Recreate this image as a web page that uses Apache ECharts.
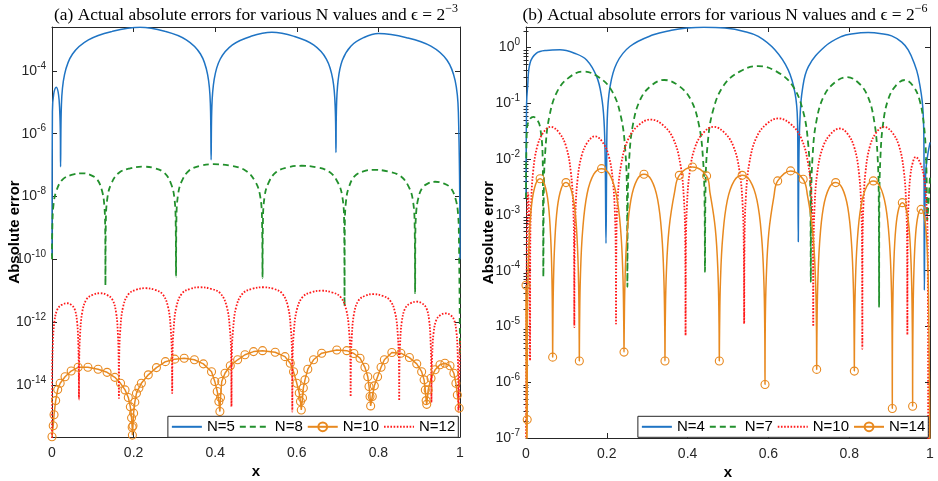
<!DOCTYPE html>
<html>
<head>
<meta charset="utf-8">
<title>Actual absolute errors</title>
<script src="https://cdn.jsdelivr.net/npm/echarts@6/dist/echarts.min.js"></script>
<style>
  html, body { margin: 0; padding: 0; background: #fff; }
  #chart { width: 938px; height: 481px; }
</style>
</head>
<body>
<div id="chart"></div>
<script>
// Every curve point is [x, log10(absolute error)].

// ---- Panel (a): epsilon = 2^-3 ----
const errA_N5 = [
  [0, -9.9], [0.001, -5.3], [0.004, -4.75], [0.0105, -4.52], [0.016, -4.75], [0.019, -5.3], [0.0205, -6.0], [0.021, -7.05],
  [0.0230, -5.11], [0.0308, -4.11], [0.0503, -3.46], [0.0893, -3.01], [0.1478, -2.74], [0.216, -2.61], [0.2769, -2.74], [0.3291, -3.01], [0.3639, -3.46], [0.3813, -4.11], [0.3883, -5.11], [0.390, -6.83],
  [0.3915, -5.27], [0.3975, -4.27], [0.4124, -3.62], [0.4422, -3.17], [0.4869, -2.90], [0.539, -2.77], [0.5940, -2.90], [0.6411, -3.17], [0.6725, -3.62], [0.6882, -4.27], [0.6944, -5.27], [0.696, -6.60],
  [0.6970, -5.31], [0.7012, -4.31], [0.7116, -3.66], [0.7324, -3.21], [0.7636, -2.94], [0.800, -2.81], [0.8693, -2.94], [0.9287, -3.21], [0.9683, -3.66], [0.9881, -4.31], [0.9960, -5.31], [1.0, -10.0]
];

const errA_N8 = [
  [0, -10.0], [0.0007, -9.06], [0.0037, -8.26], [0.0110, -7.81], [0.0257, -7.46], [0.0478, -7.31], [0.0735, -7.26], [0.0936, -7.31], [0.1109, -7.46], [0.1224, -7.81], [0.1281, -8.26], [0.1304, -9.06], [0.131, -10.82],
  [0.1319, -8.85], [0.1357, -8.05], [0.1450, -7.60], [0.1636, -7.25], [0.1915, -7.10], [0.224, -7.05], [0.252, -7.10], [0.276, -7.25], [0.292, -7.60], [0.300, -8.05], [0.3032, -8.85], [0.304, -10.55],
  [0.3049, -8.77], [0.3086, -7.97], [0.3178, -7.52], [0.3362, -7.17], [0.3638, -7.02], [0.396, -6.97], [0.438, -7.02], [0.474, -7.17], [0.498, -7.52], [0.510, -7.97], [0.5148, -8.77], [0.516, -10.60],
  [0.5170, -8.82], [0.5208, -8.02], [0.5304, -7.57], [0.5496, -7.22], [0.5784, -7.07], [0.612, -7.02], [0.6488, -7.07], [0.6803, -7.22], [0.7013, -7.57], [0.7118, -8.02], [0.7160, -8.82], [0.717, -11.5],
  [0.7177, -8.95], [0.7206, -8.15], [0.7277, -7.70], [0.7419, -7.35], [0.7632, -7.20], [0.788, -7.15], [0.8237, -7.20], [0.8543, -7.35], [0.8747, -7.70], [0.8849, -8.15], [0.8889, -8.95], [0.890, -11.08],
  [0.8905, -9.33], [0.8925, -8.53], [0.8974, -8.08], [0.9072, -7.73], [0.9219, -7.58], [0.939, -7.53], [0.9597, -7.58], [0.9774, -7.73], [0.9892, -8.08], [0.9951, -8.53], [0.9974, -9.33], [1.0, -13.0]
];

const errA_N10 = [
  [0, -15.65], [0.003, -15.3], [0.005, -14.95], [0.009, -14.5], [0.014, -14.15], [0.02, -13.95], [0.032, -13.74], [0.047, -13.56], [0.064, -13.44], [0.088, -13.44], [0.113, -13.50], [0.135, -13.6], [0.154, -13.76], [0.168, -13.95], [0.179, -14.16], [0.187, -14.4], [0.192, -14.7], [0.195, -15.05], [0.1965, -15.35], [0.197, -15.6],
  [0.1985, -15.3], [0.2, -14.9], [0.203, -14.55], [0.207, -14.27], [0.213, -14.1], [0.219, -13.95], [0.236, -13.68], [0.256, -13.45], [0.278, -13.26], [0.301, -13.18], [0.324, -13.15], [0.349, -13.20], [0.371, -13.33], [0.391, -13.58], [0.399, -13.89], [0.405, -14.21], [0.409, -14.53], [0.4115, -14.85],
  [0.413, -14.4], [0.416, -13.89], [0.424, -13.63], [0.437, -13.39], [0.455, -13.20], [0.473, -13.04], [0.494, -12.94], [0.516, -12.91], [0.547, -12.96], [0.571, -13.10], [0.584, -13.31], [0.592, -13.58], [0.600, -13.95], [0.606, -14.26], [0.609, -14.53], [0.611, -14.80],
  [0.614, -14.42], [0.616, -14.10], [0.620, -13.84], [0.627, -13.50], [0.641, -13.20], [0.661, -12.99], [0.698, -12.89], [0.7225, -12.91], [0.740, -13.0], [0.755, -13.15], [0.767, -13.44], [0.774, -13.74], [0.777, -14.05], [0.7795, -14.37], [0.781, -14.67],
  [0.785, -14.37], [0.790, -14.03], [0.798, -13.74], [0.8065, -13.44], [0.8146, -13.20], [0.833, -12.97], [0.855, -12.99], [0.876, -13.13], [0.894, -13.33], [0.906, -13.58], [0.912, -13.84], [0.915, -14.16], [0.917, -14.50], [0.9185, -14.62],
  [0.922, -14.16], [0.929, -13.79], [0.939, -13.52], [0.951, -13.36], [0.963, -13.31], [0.9755, -13.39], [0.985, -13.63], [0.990, -13.95], [0.9935, -14.32], [0.998, -14.74]
];

const errA_N12 = [
  [0, -16.5], [0.0004, -13.6], [0.0019, -12.75], [0.0056, -12.02], [0.0130, -11.6], [0.0241, -11.45], [0.037, -11.40], [0.0472, -11.45], [0.0559, -11.6], [0.0617, -12.02], [0.0646, -12.75], [0.0657, -13.6], [0.0661, -14.46],
  [0.0666, -13.28], [0.0687, -12.43], [0.0739, -11.70], [0.0843, -11.28], [0.1000, -11.13], [0.118, -11.08], [0.1341, -11.13], [0.1479, -11.28], [0.1571, -11.70], [0.1617, -12.43], [0.1635, -13.28], [0.164, -14.42],
  [0.1647, -13.12], [0.1673, -12.27], [0.1738, -11.54], [0.1868, -11.12], [0.2063, -10.97], [0.229, -10.92], [0.252, -10.97], [0.2716, -11.12], [0.2848, -11.54], [0.2913, -12.27], [0.2939, -13.12], [0.2946, -14.26],
  [0.2953, -13.09], [0.2980, -12.24], [0.3049, -11.51], [0.3185, -11.09], [0.3391, -10.94], [0.363, -10.89], [0.3899, -10.94], [0.4130, -11.09], [0.4284, -11.51], [0.4361, -12.24], [0.4391, -13.09], [0.4399, -14.69],
  [0.4407, -13.09], [0.4438, -12.24], [0.4516, -11.51], [0.4672, -11.09], [0.4907, -10.94], [0.518, -10.89], [0.5429, -10.94], [0.5642, -11.09], [0.5784, -11.51], [0.5855, -12.24], [0.5883, -13.09], [0.589, -14.85],
  [0.5897, -13.2], [0.5926, -12.35], [0.5998, -11.62], [0.6142, -11.2], [0.6358, -11.05], [0.661, -11.00], [0.6859, -11.05], [0.7072, -11.2], [0.7214, -11.62], [0.7285, -12.35], [0.7313, -13.2], [0.732, -14.37],
  [0.7326, -13.31], [0.7348, -12.46], [0.7403, -11.73], [0.7513, -11.31], [0.7678, -11.16], [0.787, -11.11], [0.8094, -11.16], [0.8286, -11.31], [0.8414, -11.73], [0.8478, -12.46], [0.8504, -13.31], [0.851, -14.5],
  [0.8514, -13.55], [0.8532, -12.70], [0.8575, -11.97], [0.8661, -11.55], [0.8790, -11.40], [0.894, -11.35], [0.9066, -11.40], [0.9174, -11.55], [0.9246, -11.97], [0.9282, -12.70], [0.9296, -13.55], [0.930, -14.56],
  [0.9304, -13.92], [0.9318, -13.07], [0.9353, -12.34], [0.9423, -11.92], [0.9528, -11.77], [0.965, -11.72], [0.9759, -11.77], [0.9852, -11.92], [0.9914, -12.34], [0.9945, -13.07], [0.9957, -13.92], [0.996, -14.85], [1.0, -12.6]
];

// ---- Panel (b): epsilon = 2^-6 ----
const errB_N4 = [
  [0, -2.7], [0.0015, -1.0], [0.004, -0.7], [0.0099, -0.28], [0.026, -0.10], [0.05, -0.05], [0.084, -0.04], [0.12, -0.10], [0.150, -0.22], [0.175, -0.52], [0.187, -0.88], [0.193, -1.30], [0.196, -2.0], [0.198, -3.51],
  [0.1995, -2.2], [0.201, -1.30], [0.208, -0.70], [0.2245, -0.28], [0.257, 0.02], [0.315, 0.23], [0.36, 0.31], [0.398, 0.35], [0.44, 0.366], [0.4926, 0.35], [0.54, 0.29], [0.575, 0.20], [0.616, -0.04], [0.649, -0.40], [0.666, -0.82], [0.672, -1.30], [0.673, -2.0], [0.674, -3.48],
  [0.6755, -2.0], [0.678, -1.30], [0.684, -0.76], [0.699, -0.34], [0.740, 0.02], [0.781, 0.20], [0.81, 0.25], [0.847, 0.27], [0.88, 0.25], [0.905, 0.21], [0.93, 0.10], [0.946, -0.04], [0.961, -0.28], [0.971, -0.52], [0.982, -1.06], [0.985, -1.8], [0.986, -4.35],
  [0.989, -2.3], [1.0, -1.7]
];

const errB_N7 = [
  [0, -2.7], [0.002, -1.48], [0.008, -1.3], [0.018, -1.24], [0.028, -1.3], [0.0347, -1.42], [0.041, -1.90], [0.042, -2.6], [0.043, -4.11],
  [0.0440, -2.63], [0.0480, -1.83], [0.0579, -1.23], [0.0777, -0.78], [0.1074, -0.53], [0.142, -0.43], [0.1802, -0.53], [0.2129, -0.78], [0.2347, -1.23], [0.2456, -1.83], [0.2499, -2.63], [0.251, -4.29],
  [0.2519, -2.78], [0.2556, -1.98], [0.2647, -1.38], [0.2829, -0.93], [0.3102, -0.68], [0.342, -0.58], [0.3774, -0.68], [0.4077, -0.93], [0.4279, -1.38], [0.4380, -1.98], [0.4420, -2.78], [0.443, -4.02],
  [0.4443, -2.53], [0.4496, -1.73], [0.4628, -1.13], [0.4892, -0.68], [0.5288, -0.43], [0.575, -0.33], [0.6205, -0.43], [0.6595, -0.68], [0.6855, -1.13], [0.6985, -1.73], [0.7037, -2.53], [0.705, -4.20],
  [0.7059, -2.73], [0.7095, -1.93], [0.7185, -1.33], [0.7365, -0.88], [0.7635, -0.63], [0.795, -0.53], [0.8227, -0.63], [0.8464, -0.88], [0.8622, -1.33], [0.8701, -1.93], [0.8732, -2.73], [0.874, -4.65],
  [0.8746, -2.78], [0.8772, -1.98], [0.8836, -1.38], [0.8964, -0.93], [0.9156, -0.68], [0.938, -0.58], [0.9573, -0.68], [0.9738, -0.93], [0.9848, -1.38], [0.9903, -1.98], [0.9925, -2.78], [0.993, -3.1], [1.0, -2.3]
];

const errB_N10 = [
  [0, -7.5], [0.002, -3.5], [0.005, -2.6], [0.008, -3.2], [0.010, -5.61],
  [0.0105, -3.62], [0.0126, -2.82], [0.0177, -2.22], [0.0279, -1.77], [0.0432, -1.52], [0.061, -1.42], [0.0815, -1.52], [0.0991, -1.77], [0.1108, -2.22], [0.1167, -2.82], [0.1190, -3.62], [0.1196, -5.01],
  [0.1201, -3.79], [0.1222, -2.99], [0.1273, -2.39], [0.1376, -1.94], [0.1530, -1.69], [0.171, -1.59], [0.1891, -1.69], [0.2047, -1.94], [0.2150, -2.39], [0.2202, -2.99], [0.2223, -3.79], [0.2228, -4.95],
  [0.2237, -3.49], [0.2271, -2.69], [0.2357, -2.09], [0.2530, -1.64], [0.2788, -1.39], [0.309, -1.29], [0.3391, -1.39], [0.3649, -1.64], [0.3821, -2.09], [0.3907, -2.69], [0.3941, -3.49], [0.395, -5.16],
  [0.3957, -3.62], [0.3985, -2.82], [0.4054, -2.22], [0.4192, -1.77], [0.4399, -1.52], [0.464, -1.42], [0.4906, -1.52], [0.5134, -1.77], [0.5286, -2.22], [0.5362, -2.82], [0.5392, -3.62], [0.540, -4.95],
  [0.5409, -3.47], [0.5443, -2.67], [0.5528, -2.07], [0.5698, -1.62], [0.5953, -1.37], [0.625, -1.27], [0.6551, -1.37], [0.6809, -1.62], [0.6981, -2.07], [0.7067, -2.67], [0.7101, -3.47], [0.711, -5.0],
  [0.7117, -3.65], [0.7143, -2.85], [0.7209, -2.25], [0.7341, -1.80], [0.7539, -1.55], [0.777, -1.45], [0.7964, -1.55], [0.8131, -1.80], [0.8242, -2.25], [0.8297, -2.85], [0.8319, -3.65], [0.8325, -5.40],
  [0.8330, -3.62], [0.8352, -2.82], [0.8405, -2.22], [0.8512, -1.77], [0.8673, -1.52], [0.886, -1.42], [0.9063, -1.52], [0.9237, -1.77], [0.9353, -2.22], [0.9411, -2.82], [0.9434, -3.62], [0.944, -5.15],
  [0.9442, -4.16], [0.9450, -3.36], [0.9471, -2.76], [0.9512, -2.31], [0.9574, -2.06], [0.9646, -1.96], [0.9752, -2.06], [0.9848, -2.31], [0.9909, -2.76], [0.9940, -3.36], [0.9947, -4.16], [0.997, -7.5], [1.0, -7.5]
];

const errB_N14 = [
  [0, -4.26], [0.0015, -7.3], [0.003, -6.67],
  [0.0033, -5.15], [0.0046, -4.25], [0.0078, -3.45], [0.0142, -2.80], [0.0238, -2.45], [0.035, -2.35], [0.0459, -2.45], [0.0552, -2.80], [0.0614, -3.45], [0.0645, -4.25], [0.0657, -5.15], [0.066, -5.55],
  [0.0663, -5.22], [0.0677, -4.32], [0.0710, -3.52], [0.0776, -2.87], [0.0875, -2.52], [0.099, -2.42], [0.1106, -2.52], [0.1205, -2.87], [0.1271, -3.52], [0.1304, -4.32], [0.1317, -5.22], [0.132, -5.62],
  [0.1326, -4.97], [0.1348, -4.07], [0.1403, -3.27], [0.1513, -2.62], [0.1678, -2.27], [0.187, -2.17], [0.2065, -2.27], [0.2231, -2.62], [0.2343, -3.27], [0.2398, -4.07], [0.2420, -4.97], [0.2426, -5.46],
  [0.2431, -5.07], [0.2451, -4.17], [0.2500, -3.37], [0.2599, -2.72], [0.2747, -2.37], [0.292, -2.27], [0.3102, -2.37], [0.3258, -2.72], [0.3362, -3.37], [0.3414, -4.17], [0.3435, -5.07], [0.344, -5.62],
  [0.3447, -4.94], [0.3474, -4.04], [0.3542, -3.24], [0.3678, -2.59], [0.3795, -2.29], [0.412, -2.14], [0.447, -2.30], [0.4552, -2.59], [0.4685, -3.24], [0.4752, -4.04], [0.4778, -4.94], [0.4785, -5.62],
  [0.4791, -5.09], [0.4813, -4.19], [0.4870, -3.39], [0.4983, -2.74], [0.5152, -2.39], [0.535, -2.29], [0.5548, -2.39], [0.5718, -2.74], [0.5831, -3.39], [0.5888, -4.19], [0.5910, -5.09], [0.5916, -6.04],
  [0.5922, -5.01], [0.5948, -4.11], [0.6011, -3.31], [0.6138, -2.66], [0.623, -2.39], [0.655, -2.21], [0.686, -2.36], [0.6969, -2.66], [0.7098, -3.31], [0.7163, -4.11], [0.7189, -5.01], [0.7195, -5.77],
  [0.7200, -5.22], [0.7219, -4.32], [0.7266, -3.52], [0.7360, -2.87], [0.7501, -2.52], [0.7666, -2.42], [0.7827, -2.52], [0.7966, -2.87], [0.8058, -3.52], [0.8104, -4.32], [0.8122, -5.22], [0.8127, -5.80],
  [0.8132, -5.19], [0.8151, -4.29], [0.8198, -3.49], [0.8292, -2.84], [0.8433, -2.49], [0.8597, -2.39], [0.8762, -2.49], [0.8903, -2.84], [0.8997, -3.49], [0.9044, -4.29], [0.9062, -5.19], [0.9067, -6.47],
  [0.9069, -5.58], [0.9079, -4.68], [0.9104, -3.88], [0.9154, -3.23], [0.9228, -2.88], [0.9315, -2.78], [0.9404, -2.88], [0.9481, -3.23], [0.9532, -3.88], [0.9557, -4.68], [0.9567, -5.58], [0.957, -6.43],
  [0.9572, -5.70], [0.9581, -4.80], [0.9602, -4.00], [0.9644, -3.35], [0.9707, -3.00], [0.978, -2.90], [0.985, -3.00], [0.991, -3.35], [0.995, -4.00], [0.997, -4.80], [1.0, -7.5]
];
// x positions of the N=14 samples that carry a circle marker
const errB_N14_marked = [0, 0.003, 0.035, 0.066, 0.099, 0.132, 0.187, 0.2426, 0.292, 0.344, 0.3795, 0.412, 0.447,
  0.4785, 0.535, 0.5916, 0.623, 0.655, 0.686, 0.7195, 0.7666, 0.8127, 0.8597, 0.9067, 0.9315, 0.957, 0.978];

// Axis ticks and limits (exponents of ten for the log axes)
const xTicks = [0, 0.2, 0.4, 0.6, 0.8, 1];
const yTickExpA = [-14, -12, -10, -8, -6, -4];
const yTickExpB = [-7, -6, -5, -4, -3, -2, -1, 0];
const yLimExpA = [-15.66, -2.6];
const yLimExpB = [-7, 0.37];

const titleA = '(a) Actual absolute errors for various N values and \u03F5 = 2';
const titleB = '(b) Actual absolute errors for various N values and \u03F5 = 2';
const titleExpA = '\u22123';
const titleExpB = '\u22126';

const legendA = ['N=5', 'N=8', 'N=10', 'N=12'];
const legendB = ['N=4', 'N=7', 'N=10 ', 'N=14'];
const circledNames = ['N=10', 'N=14'];

// ---- styling ----
const SANS = 'Liberation Sans, Arial, Helvetica, sans-serif';
const SERIF = 'Liberation Serif, DejaVu Serif, Times New Roman, serif';
const AX = '#262626';
const BLUE = '#1f74c4';
const GREEN = '#22902c';
const ORANGE = '#e8891f';
const RED = '#ff1a1a';

const toData = pts => pts.map(p => [p[0], Math.pow(10, p[1])]);

const expLabel = v => {
  const e = Math.round(Math.log10(v));
  return '{b|10}{s|' + e + '}';
};
const labelRich = {
  b: { fontSize: 14, fontFamily: SANS, color: AX, lineHeight: 20 },
  s: { fontSize: 10, fontFamily: SANS, color: AX, lineHeight: 8, verticalAlign: 'top' }
};
const nameStyle = { fontFamily: SANS, fontSize: 15, fontWeight: 'bold', color: '#000' };

function xAxisPair(gridIndex) {
  const base = {
    type: 'value', gridIndex, min: xTicks[0], max: xTicks[xTicks.length - 1], interval: xTicks[1] - xTicks[0],
    axisLine: { show: true, onZero: false, lineStyle: { color: AX, width: 1 } },
    axisTick: { show: true, inside: true, length: 5, lineStyle: { color: AX, width: 1 } },
    splitLine: { show: false }
  };
  return [
    Object.assign({}, base, {
      position: 'bottom',
      name: 'x', nameLocation: 'middle', nameGap: 27, nameMoveOverlap: false,
      nameTextStyle: nameStyle,
      axisLabel: { fontFamily: SANS, fontSize: 14, color: AX, margin: 9 }
    }),
    Object.assign({}, base, { position: 'top', axisLabel: { show: false } })
  ];
}

function yAxisSet(gridIndex, limExp, tickExp, minorVals) {
  const min = Math.pow(10, limExp[0]);
  const max = Math.pow(10, limExp[1]);
  const ticks = tickExp.map(e => Math.pow(10, e));
  const base = {
    type: 'log', logBase: 10, gridIndex, min, max,
    axisLine: { show: true, onZero: false, lineStyle: { color: AX, width: 1 } },
    axisTick: { show: true, inside: true, length: 5, customValues: ticks, lineStyle: { color: AX, width: 1 } },
    splitLine: { show: false }, minorTick: { show: false }
  };
  const axes = [
    Object.assign({}, base, {
      position: 'left',
      name: 'Absolute error', nameLocation: 'middle', nameGap: 30, nameMoveOverlap: false,
      nameTextStyle: nameStyle,
      axisLabel: { customValues: ticks, formatter: expLabel, rich: labelRich, margin: 6 }
    }),
    Object.assign({}, base, { position: 'right', axisLabel: { show: false } })
  ];
  if (minorVals) {
    ['left', 'right'].forEach(pos => {
      axes.push({
        type: 'log', logBase: 10, gridIndex, min, max, position: pos,
        axisLine: { show: false },
        axisTick: { show: true, inside: true, length: 2.5, customValues: minorVals, lineStyle: { color: AX, width: 1 } },
        axisLabel: { show: false }, splitLine: { show: false }
      });
    });
  }
  return axes;
}

// minor log ticks (2..9 x 10^k) for panel (b)
const minorB = [];
for (let k = yLimExpB[0]; k <= Math.floor(yLimExpB[1]); k++) {
  for (let m = 2; m <= 9; m++) {
    const v = m * Math.pow(10, k);
    if (Math.log10(v) < yLimExpB[1]) minorB.push(v);
  }
}

const yAxesA = yAxisSet(0, yLimExpA, yTickExpA, null);      // indices 0,1
const yAxesB = yAxisSet(1, yLimExpB, yTickExpB, minorB);    // indices 2..5

function lineSeries(name, pts, xi, yi, color, width, dash, extra) {
  return Object.assign({
    name, type: 'line', xAxisIndex: xi, yAxisIndex: yi,
    data: toData(pts),
    symbol: 'none', showSymbol: false, clip: true, silent: true,
    smooth: 0.4,
    lineStyle: { color, width, type: dash || 'solid' },
    itemStyle: { color },
    emphasis: { disabled: true },
    animation: false
  }, extra || {});
}

const circleStyle = {
  symbol: 'circle', showSymbol: true, symbolSize: 8,
  itemStyle: { color: 'rgba(255,255,255,0)', borderColor: ORANGE, borderWidth: 1.1 }
};

const markedSet = new Set(errB_N14_marked.map(v => v.toFixed(4)));
const n14Series = lineSeries('N=14', errB_N14, 2, 2, ORANGE, 1.5, 'solid', circleStyle);
n14Series.data = errB_N14.map(p => {
  const item = { value: [p[0], Math.pow(10, p[1])] };
  if (!markedSet.has(p[0].toFixed(4))) item.symbol = 'none';
  return item;
});

function legendBox(names, right) {
  return {
    // plain-line entries hide the marker glyph in their key
    data: names.map(n => circledNames.indexOf(n) >= 0
      ? { name: n }
      : { name: n, itemStyle: { opacity: 0 } }),
    orient: 'horizontal', right, bottom: 43.7,
    itemWidth: 30, itemHeight: 11, itemGap: 4,
    backgroundColor: '#fff', borderColor: AX, borderWidth: 1, borderRadius: 0,
    padding: [3, 3, 3, 3], selectedMode: false,
    formatter: n => n.trim(),
    textStyle: { fontFamily: SANS, fontSize: 15, color: '#000' }
  };
}

function titleBox(text, sup, centerX) {
  return {
    text: '{t|' + text + '}{s|' + sup + '}',
    left: centerX, top: 3, textAlign: 'center', padding: 0,
    textStyle: {
      fontWeight: 'normal',
      rich: {
        t: { fontFamily: SERIF, fontSize: 17.4, fontWeight: 'normal', color: '#000', lineHeight: 24 },
        s: { fontFamily: SERIF, fontSize: 12, fontWeight: 'normal', color: '#000', lineHeight: 13, verticalAlign: 'top' }
      }
    }
  };
}

const chart = echarts.init(document.getElementById('chart'), null, { renderer: 'canvas' });
chart.setOption({
  backgroundColor: '#fff',
  animation: false,
  title: [titleBox(titleA, titleExpA, 256), titleBox(titleB, titleExpB, 725)],
  grid: [
    { left: 52, top: 27, width: 408, height: 410, containLabel: false, outerBoundsMode: 'none' },
    { left: 526, top: 27, width: 404, height: 411, containLabel: false, outerBoundsMode: 'none' }
  ],
  xAxis: [].concat(xAxisPair(0), xAxisPair(1)),
  yAxis: [].concat(yAxesA, yAxesB),
  legend: [legendBox(legendA, 479.7), legendBox(legendB, 9.7)],
  series: [
    lineSeries('N=5', errA_N5, 0, 0, BLUE, 1.5),
    lineSeries('N=8', errA_N8, 0, 0, GREEN, 1.8, [6, 4]),
    lineSeries('N=10', errA_N10, 0, 0, ORANGE, 1.5, 'solid', Object.assign({ smooth: false }, circleStyle)),
    lineSeries('N=12', errA_N12, 0, 0, RED, 1.8, [1.6, 1.6]),
    lineSeries('N=4', errB_N4, 2, 2, BLUE, 1.5),
    lineSeries('N=7', errB_N7, 2, 2, GREEN, 1.8, [6, 4]),
    lineSeries('N=10 ', errB_N10, 2, 2, RED, 1.8, [1.6, 1.6]),
    n14Series
  ]
});
</script>
</body>
</html>
